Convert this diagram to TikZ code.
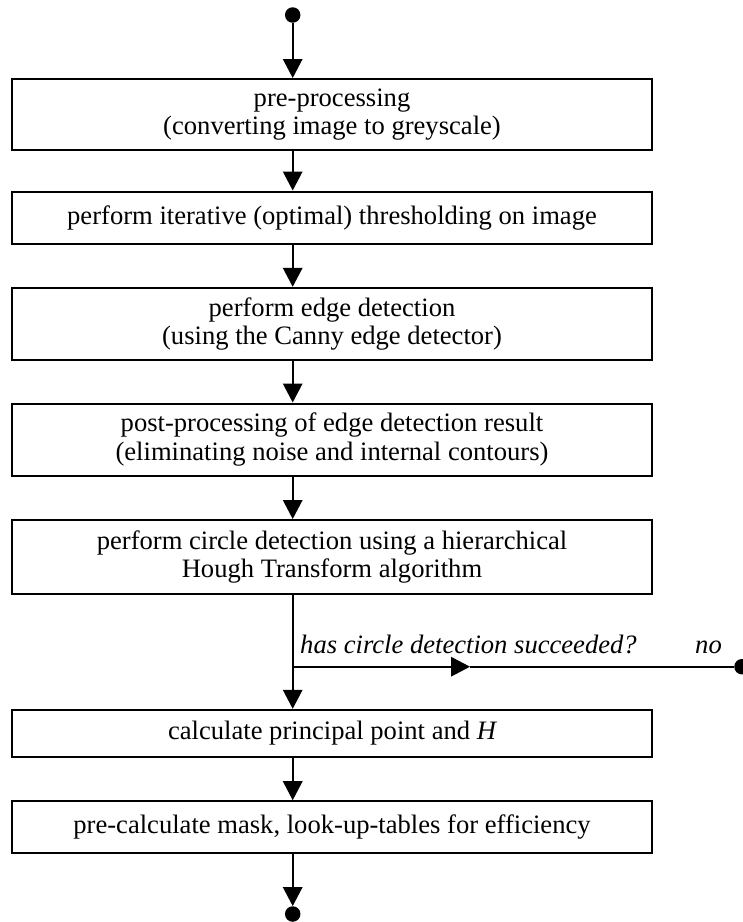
\documentclass[tikz,border=0pt]{standalone}
\usepackage{fontspec}
\setmainfont{Liberation Serif}
\usetikzlibrary{arrows.meta}
\begin{document}
\begin{tikzpicture}[x=1pt,y=-1pt,
  box/.style={draw,line width=2pt,minimum width=640pt,inner sep=0pt,align=center,
    font=\fontsize{26.6}{28.4}\selectfont},
  arr/.style={line width=1.6pt,-{Triangle[length=19pt,width=19.5pt]}},
  ln/.style={line width=1.6pt},
  dot/.style={circle,fill=black,minimum size=15.5pt,inner sep=0pt},
  lbl/.style={font=\fontsize{26.6}{28.4}\selectfont\itshape,inner sep=0pt}]
\useasboundingbox (0,0) rectangle (743,922);
\node[dot] (s) at (292.7,15) {};
\node[box,minimum height=71pt] (b1) at (332,114.5) {pre-processing\\(converting image to greyscale)};
\node[box,minimum height=52pt] (b2) at (332,217.5) {perform iterative (optimal) thresholding on image};
\node[box,minimum height=72pt] (b3) at (332,323.8) {perform edge detection\\(using the Canny edge detector)};
\node[box,minimum height=72pt] (b4) at (332,439.5) {post-processing of edge detection result\\(eliminating noise and internal contours)};
\node[box,minimum height=74pt] (b5) at (332,557) {perform circle detection using a hierarchical\\Hough Transform algorithm};
\node[box,minimum height=47pt] (b6) at (332,733.3) {calculate principal point and {\itshape H}};
\node[box,minimum height=52pt] (b7) at (332,827.2) {pre-calculate mask, look-up-tables for efficiency};
\node[dot] (e) at (292.7,914) {};
\coordinate (sp) at (292.7,666.7);
\coordinate (mid) at (470,666.7);
\node[dot] (nd) at (742,666.7) {};
\draw[arr] (s) -- (b1.north -| s);
\draw[arr] (b1.south -| s) -- (b2.north -| s);
\draw[arr] (b2.south -| s) -- (b3.north -| s);
\draw[arr] (b3.south -| s) -- (b4.north -| s);
\draw[arr] (b4.south -| s) -- (b5.north -| s);
\draw[arr] (b5.south -| s) -- (b6.north -| s);
\draw[arr] (b6.south -| s) -- (b7.north -| s);
\draw[arr] (b7.south -| s) -- (e);
\draw[arr] (sp) -- (mid);
\draw[ln] (mid) -- (nd);
\node[lbl,anchor=base west] (q) at (300,653) {has circle detection succeeded?};
\node[lbl,anchor=base west] (no) at (695,653) {no};
\end{tikzpicture}
\end{document}
